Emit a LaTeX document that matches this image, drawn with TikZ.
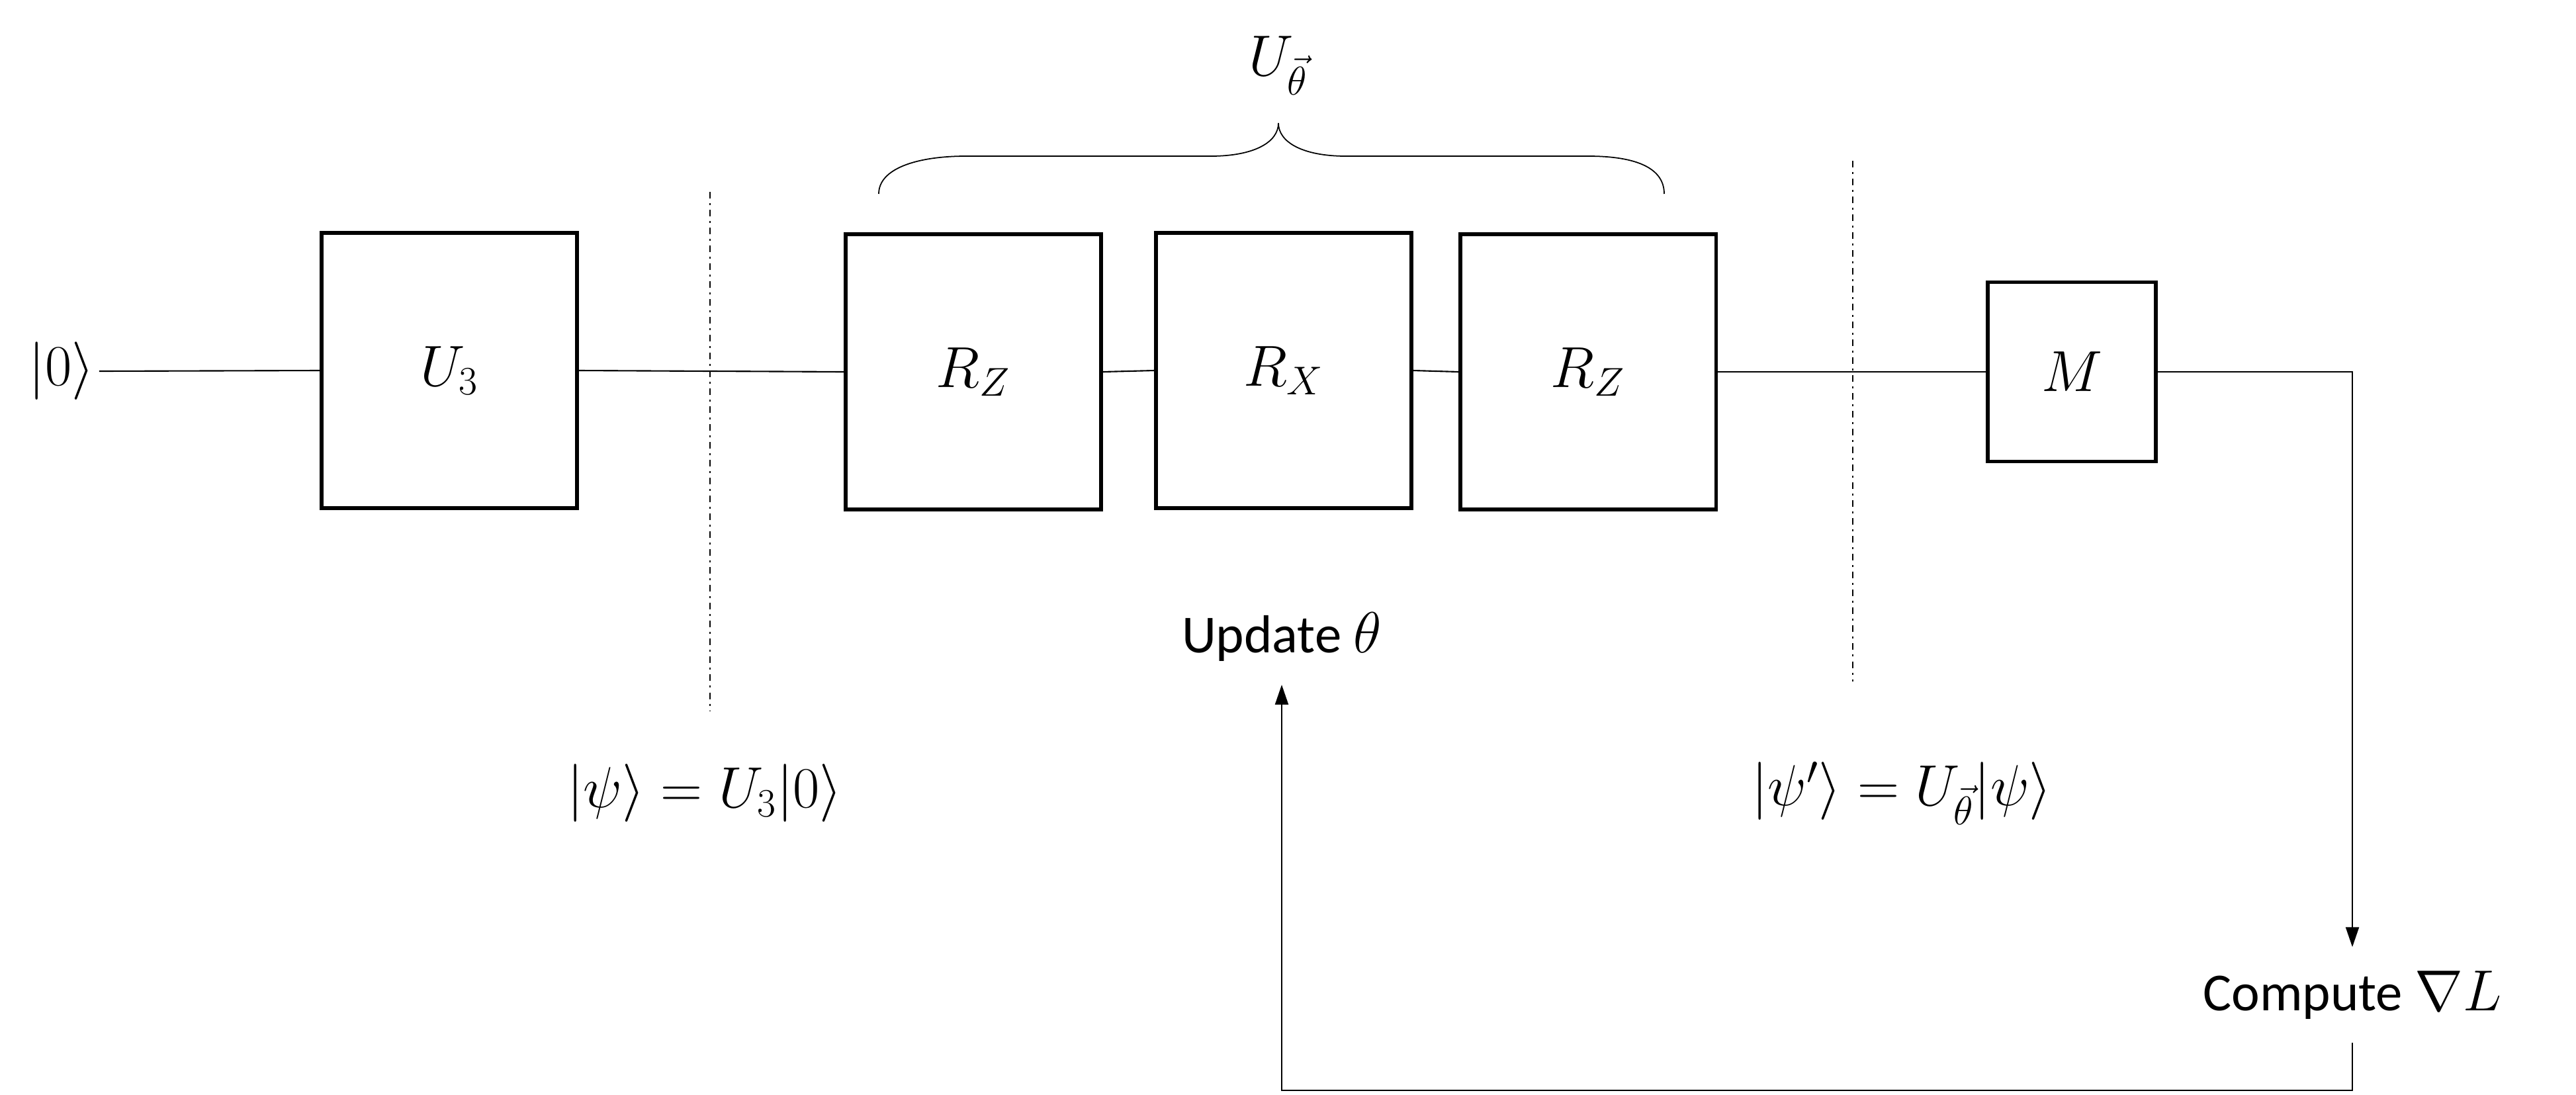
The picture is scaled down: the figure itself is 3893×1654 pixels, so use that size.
\documentclass[tikz,border=0pt]{standalone}
\usepackage{fontspec}
\setmainfont{Carlito}
\usetikzlibrary{arrows.meta}
\begin{document}
\begin{tikzpicture}[x=0.01cm,y=-0.01cm,
  gate/.style={draw, line width=1.5pt, minimum width=3.86cm, minimum height=4.16cm, inner sep=0pt, font=\fontsize{23}{28}\selectfont},
  wire/.style={line width=0.6pt},
  sepline/.style={line width=0.5pt, dash pattern=on 0.1cm off 0.07cm on 0.03cm off 0.07cm},
  lbl/.style={font=\fontsize{23}{28}\selectfont, inner sep=2pt},
  txt/.style={font=\fontsize{23}{28}\selectfont, inner sep=10pt, anchor=base},
  fb/.style={line width=0.6pt, -{Triangle[length=0.3cm,width=0.2cm]}}]
\useasboundingbox (0,0) rectangle (3893,1654);

% labels
\node[lbl] (k0) at (93,561) {$|0\rangle$};
\node[lbl] (ut) at (1932,99) {$U_{\vec\theta}$};
\node[lbl] (psi) at (1065,1199) {$|\psi\rangle = U_3|0\rangle$};
\node[lbl] (psip) at (2874,1199) {$|\psi'\rangle = U_{\vec\theta}|\psi\rangle$};
\node[txt] (upd) at (1937,986) {Update $\theta$};
\node[txt] (cmp) at (3555,1527) {Compute $\nabla L$};

% gates
\node[gate] (u3) at (679,560) {$U_3$};
\node[gate] (rz1) at (1471,562) {$R_Z$};
\node[gate] (rx) at (1940,560) {$R_X$};
\node[gate] (rz2) at (2400,562) {$R_Z$};
\node[gate, minimum width=2.54cm, minimum height=2.71cm] (m) at (3131,562) {$M$};

% wires
\draw[wire] (k0.east) -- (u3.west);
\draw[wire] (u3.east) -- (rz1.west);
\draw[wire] (rz1.east) -- (rx.west);
\draw[wire] (rx.east) -- (rz2.west);
\draw[wire] (rz2.east) -- (m.west);

% feedback loop
\draw[fb] (m.east) -| (cmp.north);
\coordinate (low) at (0,1648);
\draw[fb] (cmp.south) -- (cmp.south |- low) -| (upd.south);

% separators
\draw[sepline] (1073,290) -- (1073,1075);
\draw[sepline] (2800,243) -- (2800,1030);

% brace
\draw[line width=0.5pt] (1328,293) .. controls (1328,255) and (1385,236) .. (1460,236)
  -- (1830,236) .. controls (1895,236) and (1932,215) .. (1932,186)
  .. controls (1932,215) and (1969,236) .. (2034,236)
  -- (2400,236) .. controls (2475,236) and (2515,255) .. (2515,293);
\end{tikzpicture}
\end{document}
